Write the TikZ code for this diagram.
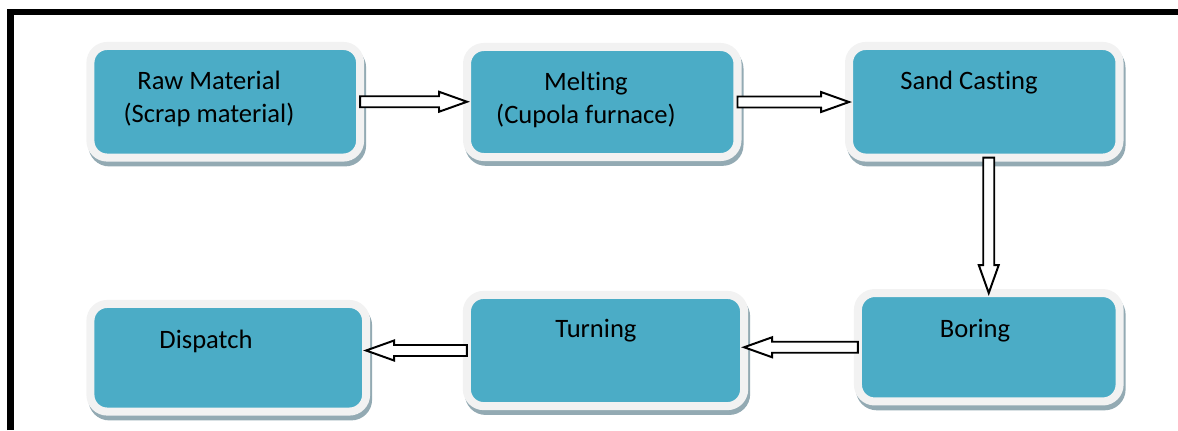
\documentclass[tikz,border=0pt]{standalone}
\usepackage{fontspec}
\setmainfont{Carlito}[Ligatures=NoCommon]
\usetikzlibrary{calc,shadows}
\definecolor{boxteal}{HTML}{4BACC6}
\definecolor{boxrim}{HTML}{F2F2F2}
\definecolor{boxshade}{HTML}{93AAB3}

\begin{document}
\begin{tikzpicture}[x=0.025cm, y=-0.025cm,
  stage/.style={rectangle, rounded corners=0.42cm, fill=boxteal, draw=boxrim, line width=5.7pt, outer sep=0pt, inner sep=0pt,
    copy shadow={shadow xshift=0.05cm, shadow yshift=-0.12cm, draw=boxshade, fill=boxshade}},
  stagetext/.style={font=\fontsize{18.9}{23.5}\selectfont, align=center, inner sep=0pt},
  fatarrow/.style={draw=black, fill=white, line width=1.4pt, line join=miter,
    to path={($(\tikztostart)!0.1375cm!90:(\tikztotarget)$)
      -- ($(\tikztotarget)!0.7134cm!-11.11:(\tikztostart)$)
      -- ($(\tikztotarget)!0.743cm!-19.65:(\tikztostart)$)
      -- (\tikztotarget)
      -- ($(\tikztotarget)!0.743cm!19.65:(\tikztostart)$)
      -- ($(\tikztotarget)!0.7134cm!11.11:(\tikztostart)$)
      -- ($(\tikztostart)!0.1375cm!-90:(\tikztotarget)$) -- cycle}}]
    \useasboundingbox (0,0) rectangle (1178,430);

    % frame
    \draw[line width=4.3pt] (10.5,430) -- (10.5,12) -- (1178,12);

    % top row
    \node[stage, minimum width=6.74cm, minimum height=2.79cm] (raw) at (225.25,101.75) {};
    \node[stage, minimum width=6.76cm, minimum height=2.75cm] (melt) at (602.25,102) {};
    \node[stage, minimum width=6.76cm, minimum height=2.79cm] (sand) at (984.25,101.75) {};
    % bottom row
    \node[stage, minimum width=6.54cm, minimum height=2.71cm] (boring) at (988.75,347.25) {};
    \node[stage, minimum width=6.93cm, minimum height=2.78cm] (turning) at (605.5,350.5) {};
    \node[stage, minimum width=6.89cm, minimum height=2.69cm] (dispatch) at (228.25,357.75) {};

    \node[stagetext] (rawtxt) at (209,99) {Raw Material\\(Scrap material)};
    \node[stagetext] (melttxt) at (586,100) {Melting\\(Cupola furnace)};
    \node[stagetext] (sandtxt) at (969,83) {Sand Casting};
    \node[stagetext] (boringtxt) at (975,331) {Boring};
    \node[stagetext] (turningtxt) at (596,331) {Turning};
    \node[stagetext] (dispatchtxt) at (206,341) {Dispatch};

    \coordinate (a1e) at (raw.east -| melt.west);
    \coordinate (a2e) at (melt.east -| sand.west);
    \coordinate (a3s) at (sand.south -| boring.north);
    \coordinate (a4e) at (boring.west -| turning.east);
    \coordinate (a5e) at (turning.west -| dispatch.east);

    \draw[fatarrow] (raw.east) to (a1e);
    \draw[fatarrow] (melt.east) to (a2e);
    \draw[fatarrow] (a3s) to (boring.north);
    \draw[fatarrow] (boring.west) to (a4e);
    \draw[fatarrow] (turning.west) to (a5e);
\end{tikzpicture}
\end{document}
